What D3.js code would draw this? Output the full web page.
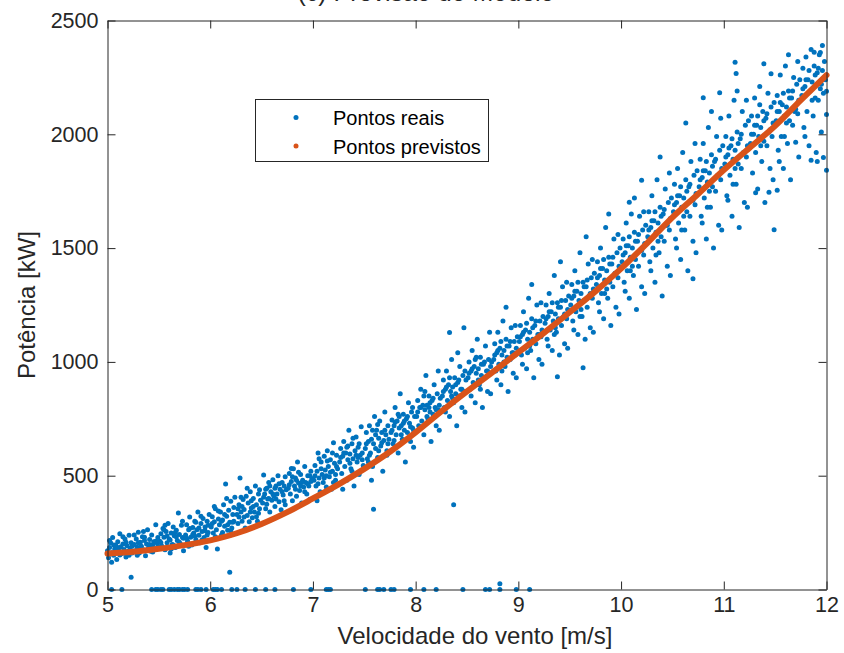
<!DOCTYPE html>
<html><head><meta charset="utf-8">
<script src="https://cdn.jsdelivr.net/npm/d3@7"></script>
<style>body{margin:0;background:#fff;}svg{display:block;font-family:"Liberation Sans",Arial,Helvetica,sans-serif;}</style>
</head><body><svg id="chart" width="844" height="653"></svg>
<script>
// ---- data ----
const titleText = "(c) Previsão do Modelo";
const xLabel = "Velocidade do vento [m/s]";
const yLabel = "Potência [kW]";
const legendLabels = ["Pontos reais", "Pontos previstos"];
const xTicks = [5, 6, 7, 8, 9, 10, 11, 12];
const yTicks = [0, 500, 1000, 1500, 2000, 2500];

// predicted curve
const predSpeed = [5,5.25,5.5,5.75,6,6.25,6.5,6.75,7,7.25,7.5,7.75,8,8.25,8.5,8.75,9,9.25,9.5,9.75,10,10.25,10.5,10.75,11,11.25,11.5,11.75,12];
const predPower = [158,166,179,195,216,246,288,340,400,462,530,605,690,782,870,955,1042,1128,1218,1310,1410,1520,1635,1738,1843,1940,2037,2150,2260];

// real measurements with zero power
const zeroSpeeds = [5.04,5.14,5.43,5.47,5.49,5.52,5.54,5.60,5.62,5.65,5.68,5.70,5.73,5.75,5.78,5.86,5.88,5.91,5.96,6.03,6.05,6.07,6.11,6.21,6.26,6.34,6.44,6.54,6.63,6.81,6.98,7.13,7.15,7.17,7.51,7.63,7.65,7.69,7.76,7.79,7.95,8.08,8.20,8.46,8.68,8.72,8.82,8.98,9.11];
// real measurements [speed, power]
const realPoints = [
[8.82,25],
[5.01,140],[5.02,185],[5.03,205],[5.04,162],[5.05,228],[5.06,150],[5.07,178],[5.08,196],[5.09,132],[5.10,210],[5.11,170],[5.12,245],[5.13,188],[5.14,158],[5.15,200],[5.16,176],[5.17,222],[5.18,143],[5.19,192],[5.20,168],[5.21,238],[5.22,182],[5.23,54],[5.23,205],[5.24,160],[5.02,215],[5.04,120],[5.06,196],[5.08,172],[5.12,152],[5.15,232],[5.18,208],[5.21,150],[5.24,190],[5.10,185],[5.00,170],
[5.26,198],[5.27,170],[5.28,222],[5.29,186],[5.30,252],[5.31,160],[5.32,208],[5.33,190],[5.34,232],[5.35,175],[5.36,215],[5.37,148],[5.38,200],[5.39,262],[5.40,185],[5.41,220],[5.42,168],[5.43,240],[5.44,195],[5.45,210],[5.46,178],[5.47,285],[5.48,205],[5.49,228],[5.26,240],[5.29,150],[5.32,185],[5.35,255],[5.38,172],[5.41,198],[5.44,165],[5.47,212],[5.49,190],[5.30,205],[5.36,230],[5.43,182],
[5.51,212],[5.52,245],[5.53,190],[5.54,268],[5.55,230],[5.56,175],[5.57,255],[5.58,205],[5.59,290],[5.60,222],[5.61,160],[5.62,248],[5.63,198],[5.64,275],[5.65,236],[5.66,185],[5.67,260],[5.68,215],[5.69,336],[5.70,242],[5.71,200],[5.72,282],[5.73,228],[5.74,170],[5.52,205],[5.55,262],[5.58,235],[5.61,218],[5.64,196],[5.67,232],[5.70,208],[5.73,300],[5.56,282],[5.62,178],[5.66,250],[5.74,225],
[5.76,240],[5.77,285],[5.78,212],[5.79,262],[5.80,318],[5.81,230],[5.82,195],[5.83,272],[5.84,248],[5.85,300],[5.86,220],[5.87,262],[5.88,340],[5.89,238],[5.90,205],[5.91,290],[5.92,255],[5.93,312],[5.94,228],[5.95,275],[5.96,185],[5.97,300],[5.98,250],[5.99,330],[5.77,225],[5.80,268],[5.83,242],[5.86,295],[5.89,270],[5.92,218],[5.95,258],[5.98,282],[5.79,190],[5.85,235],[5.91,322],[5.97,240],
[6.01,275],[6.02,320],[6.03,248],[6.04,298],[6.05,355],[6.06,262],[6.07,178],[6.08,310],[6.09,285],[6.10,340],[6.11,240],[6.12,305],[6.13,372],[6.14,278],[6.15,463],[6.16,322],[6.17,260],[6.18,348],[6.19,76],[6.19,295],[6.20,388],[6.21,270],[6.22,330],[6.23,300],[6.24,405],[6.02,290],[6.05,232],[6.08,345],[6.11,300],[6.14,330],[6.17,285],[6.20,258],[6.23,360],[6.04,365],[6.12,250],[6.22,295],[6.16,400],
[6.26,330],[6.27,290],[6.28,372],[6.29,490],[6.30,340],[6.31,300],[6.32,395],[6.33,352],[6.34,270],[6.35,410],[6.36,325],[6.37,380],[6.38,298],[6.39,430],[6.40,358],[6.41,315],[6.42,400],[6.43,340],[6.44,455],[6.45,372],[6.46,300],[6.47,420],[6.48,355],[6.49,392],[6.27,355],[6.30,405],[6.33,318],[6.36,445],[6.39,340],[6.42,365],[6.45,320],[6.48,438],[6.31,365],[6.40,390],[6.47,335],[6.28,318],
[6.51,380],[6.52,503],[6.53,420],[6.54,355],[6.55,445],[6.56,398],[6.57,470],[6.58,340],[6.59,430],[6.60,392],[6.61,482],[6.62,410],[6.63,365],[6.64,455],[6.65,420],[6.66,500],[6.67,385],[6.68,440],[6.69,350],[6.70,470],[6.71,415],[6.72,390],[6.73,495],[6.74,438],[6.52,405],[6.55,375],[6.58,455],[6.61,420],[6.64,398],[6.67,465],[6.70,430],[6.73,372],[6.54,440],[6.63,445],[6.72,455],[6.57,400],
[6.76,445],[6.77,510],[6.78,420],[6.79,475],[6.80,390],[6.81,530],[6.82,455],[6.83,490],[6.84,410],[6.85,560],[6.86,468],[6.87,435],[6.88,505],[6.89,380],[6.90,480],[6.91,450],[6.92,540],[6.93,470],[6.94,420],[6.95,500],[6.96,455],[6.97,395],[6.98,520],[6.99,488],[6.77,460],[6.80,495],[6.83,440],[6.86,515],[6.89,470],[6.92,430],[6.95,465],[6.98,475],[6.79,532],[6.88,455],[6.97,500],[6.84,480],
[7.01,480],[7.02,545],[7.03,455],[7.04,520],[7.05,600],[7.06,490],[7.07,430],[7.08,560],[7.09,505],[7.10,470],[7.11,585],[7.12,525],[7.13,450],[7.14,610],[7.15,540],[7.16,495],[7.17,570],[7.18,440],[7.19,520],[7.20,645],[7.21,555],[7.22,480],[7.23,590],[7.24,530],[7.02,500],[7.05,465],[7.08,530],[7.11,490],[7.14,565],[7.17,515],[7.20,470],[7.23,540],[7.06,575],[7.13,500],[7.19,600],[7.22,505],[7.04,390],
[7.26,560],[7.27,620],[7.28,510],[7.29,585],[7.30,650],[7.31,540],[7.32,600],[7.33,480],[7.34,570],[7.35,700],[7.36,595],[7.37,530],[7.38,640],[7.39,575],[7.40,455],[7.41,610],[7.42,670],[7.43,560],[7.44,625],[7.45,505],[7.46,590],[7.47,715],[7.48,600],[7.49,545],[7.27,580],[7.30,600],[7.33,625],[7.36,555],[7.39,665],[7.42,590],[7.45,640],[7.48,570],[7.29,440],[7.38,520],[7.44,580],[7.34,630],
[7.51,620],[7.52,690],[7.53,575],[7.54,650],[7.55,720],[7.56,600],[7.57,660],[7.58,540],[7.59,353],[7.59,640],[7.60,760],[7.61,620],[7.62,700],[7.63,580],[7.64,665],[7.65,740],[7.66,630],[7.67,690],[7.68,520],[7.69,655],[7.70,780],[7.71,680],[7.72,610],[7.73,720],[7.74,660],[7.52,640],[7.55,590],[7.58,700],[7.61,680],[7.64,610],[7.67,645],[7.70,700],[7.73,640],[7.54,560],[7.63,725],[7.72,590],[7.57,480],
[7.76,690],[7.77,745],[7.78,640],[7.79,720],[7.80,800],[7.81,680],[7.82,740],[7.83,600],[7.84,710],[7.85,860],[7.86,720],[7.87,660],[7.88,770],[7.89,700],[7.90,560],[7.91,750],[7.92,690],[7.93,820],[7.94,730],[7.95,650],[7.96,780],[7.97,710],[7.98,625],[7.99,760],[7.77,700],[7.80,735],[7.83,770],[7.86,680],[7.89,740],[7.92,760],[7.95,715],[7.98,700],[7.79,655],[7.88,730],[7.97,800],[7.84,760],
[8.01,760],[8.02,830],[8.03,720],[8.04,800],[8.05,880],[8.06,740],[8.07,810],[8.08,680],[8.09,790],[8.10,940],[8.11,810],[8.12,750],[8.13,850],[8.14,780],[8.15,650],[8.16,830],[8.17,770],[8.18,900],[8.19,800],[8.20,720],[8.21,860],[8.22,790],[8.23,700],[8.24,840],[8.02,780],[8.05,800],[8.08,850],[8.11,760],[8.14,820],[8.17,840],[8.20,790],[8.23,810],[8.04,710],[8.13,800],[8.22,960],[8.09,870],
[8.26,850],[8.27,920],[8.28,800],[8.29,880],[8.30,960],[8.31,830],[8.32,900],[8.33,1129],[8.33,760],[8.34,870],[8.35,1010],[8.36,890],[8.37,372],[8.37,820],[8.38,930],[8.39,860],[8.40,720],[8.41,910],[8.42,850],[8.43,980],[8.44,880],[8.45,800],[8.46,940],[8.47,1150],[8.47,870],[8.48,780],[8.49,920],[8.27,870],[8.30,890],[8.33,930],[8.36,840],[8.39,900],[8.42,920],[8.45,880],[8.48,960],[8.29,780],[8.41,1040],[8.35,850],
[8.51,930],[8.52,1000],[8.53,880],[8.54,960],[8.55,1050],[8.56,910],[8.57,980],[8.58,820],[8.59,950],[8.60,1100],[8.61,970],[8.62,900],[8.63,1020],[8.64,940],[8.65,800],[8.66,990],[8.67,930],[8.68,1070],[8.69,960],[8.70,870],[8.71,1010],[8.72,950],[8.73,860],[8.74,1000],[8.52,950],[8.55,970],[8.58,1010],[8.61,920],[8.64,990],[8.67,1000],[8.70,960],[8.73,980],[8.54,850],[8.63,880],[8.72,1130],[8.59,1020],
[8.76,1010],[8.77,1080],[8.78,960],[8.79,1040],[8.80,1130],[8.81,990],[8.82,1060],[8.83,900],[8.84,1030],[8.85,1180],[8.86,1050],[8.87,980],[8.88,1100],[8.89,1020],[8.90,870],[8.91,1070],[8.92,1010],[8.93,1150],[8.94,1040],[8.95,950],[8.96,1090],[8.97,1030],[8.98,930],[8.99,1110],[8.77,1030],[8.80,1050],[8.83,1090],[8.86,1000],[8.89,1070],[8.92,1090],[8.95,1040],[8.98,1060],[8.79,920],[8.88,1240],[8.97,1160],[8.84,960],
[9.01,1090],[9.02,1160],[9.03,1030],[9.04,1120],[9.05,1220],[9.06,1060],[9.07,1140],[9.08,970],[9.09,1100],[9.10,1280],[9.11,1130],[9.12,1050],[9.13,1190],[9.14,1100],[9.15,930],[9.16,1160],[9.17,1080],[9.18,1250],[9.19,1120],[9.20,1010],[9.21,1180],[9.22,1110],[9.23,990],[9.24,1200],[9.02,1110],[9.05,1130],[9.08,1170],[9.11,1070],[9.14,1150],[9.17,1180],[9.20,1120],[9.23,1140],[9.04,990],[9.13,1340],[9.22,1260],[9.09,1040],
[9.26,1170],[9.27,1250],[9.28,1100],[9.29,1200],[9.30,1300],[9.31,1140],[9.32,1220],[9.33,1050],[9.34,1180],[9.35,1380],[9.36,1210],[9.37,1130],[9.38,935],[9.38,1260],[9.39,1190],[9.40,1030],[9.41,1240],[9.42,1160],[9.43,1330],[9.44,1200],[9.45,1080],[9.46,1270],[9.47,1190],[9.48,1060],[9.49,1290],[9.27,1190],[9.30,1220],[9.33,1260],[9.36,1150],[9.39,1240],[9.42,1270],[9.45,1210],[9.48,1230],[9.29,1070],[9.41,1440],[9.47,1350],[9.35,1120],
[9.51,1250],[9.52,1340],[9.53,1180],[9.54,1290],[9.55,1400],[9.56,1220],[9.57,1310],[9.58,1120],[9.59,1270],[9.60,1480],[9.61,1300],[9.62,1200],[9.63,974],[9.63,1350],[9.64,1270],[9.65,1100],[9.66,1330],[9.67,1240],[9.68,1430],[9.69,1290],[9.70,1150],[9.71,1370],[9.72,1280],[9.73,1130],[9.74,1390],[9.52,1280],[9.55,1310],[9.58,1350],[9.61,1230],[9.64,1330],[9.67,1360],[9.70,1300],[9.73,1320],[9.54,1140],[9.66,1550],[9.72,1450],[9.60,1200],
[9.76,1340],[9.77,1440],[9.78,1260],[9.79,1380],[9.80,1500],[9.81,1300],[9.82,1410],[9.83,1190],[9.84,1360],[9.85,1590],[9.86,1400],[9.87,1280],[9.88,1460],[9.89,1350],[9.90,1160],[9.91,1430],[9.92,1330],[9.93,1540],[9.94,1390],[9.95,1240],[9.96,1480],[9.97,1370],[9.98,1210],[9.99,1500],[9.77,1370],[9.80,1410],[9.83,1450],[9.86,1320],[9.89,1430],[9.92,1460],[9.95,1390],[9.98,1420],[9.79,1220],[9.88,1650],[9.97,1560],[9.84,1300],
[10.01,1440],[10.02,1540],[10.03,1350],[10.04,1480],[10.05,1610],[10.06,1400],[10.07,1510],[10.08,1701],[10.08,1280],[10.09,1460],[10.10,1650],[10.11,1500],[10.12,1380],[10.13,1570],[10.14,1450],[10.15,1230],[10.16,1530],[10.17,1420],[10.18,1640],[10.19,1490],[10.20,1798],[10.20,1330],[10.21,1580],[10.22,1470],[10.23,1300],[10.24,1600],[10.02,1470],[10.05,1510],[10.08,1550],[10.11,1420],[10.14,1530],[10.17,1560],[10.20,1490],[10.23,1520],[10.04,1310],[10.13,1720],[10.22,1660],[10.09,1400],
[10.26,1550],[10.27,1660],[10.28,1440],[10.29,1590],[10.30,1730],[10.31,1500],[10.32,1620],[10.33,1350],[10.34,1570],[10.35,1800],[10.36,1610],[10.37,1480],[10.38,1680],[10.39,1550],[10.40,1290],[10.41,1650],[10.42,1530],[10.43,1760],[10.44,1600],[10.45,1420],[10.46,1700],[10.47,1580],[10.48,1380],[10.49,1720],[10.27,1580],[10.30,1620],[10.33,1660],[10.36,1530],[10.39,1640],[10.42,1670],[10.45,1600],[10.48,1630],[10.29,1400],[10.38,1900],[10.47,1830],[10.34,1470],
[10.51,1660],[10.52,1780],[10.53,1540],[10.54,1700],[10.55,1850],[10.56,1610],[10.57,1730],[10.58,1450],[10.59,1680],[10.60,1920],[10.61,1720],[10.62,1580],[10.63,1800],[10.64,1660],[10.65,1400],[10.66,1770],[10.67,1640],[10.68,1880],[10.69,1710],[10.70,1365],[10.70,1530],[10.71,1820],[10.72,1690],[10.73,1480],[10.74,1840],[10.52,1690],[10.55,1730],[10.58,1770],[10.61,1640],[10.64,1750],[10.67,1780],[10.70,1710],[10.73,1740],[10.54,1500],[10.63,2050],[10.72,1960],[10.59,1580],
[10.76,1770],[10.77,1890],[10.78,1640],[10.79,1810],[10.80,2161],[10.80,1960],[10.81,1720],[10.82,1840],[10.83,1540],[10.84,1790],[10.85,2030],[10.86,1830],[10.87,1680],[10.88,1910],[10.89,1770],[10.90,1500],[10.91,1880],[10.92,1750],[10.93,1990],[10.94,1820],[10.95,1600],[10.96,2183],[10.96,1930],[10.97,1800],[10.98,1580],[10.99,1950],[10.77,1800],[10.80,1840],[10.83,1880],[10.86,1750],[10.89,1860],[10.92,1890],[10.95,1820],[10.98,1850],[10.79,1610],[10.88,2100],[10.97,2070],[10.84,1680],
[11.01,1870],[11.02,1990],[11.03,1730],[11.04,1910],[11.05,2080],[11.06,1820],[11.07,1950],[11.08,1640],[11.09,1890],[11.10,2150],[11.11,2317],[11.11,1930],[11.12,2267],[11.12,1780],[11.13,2010],[11.14,1870],[11.15,1590],[11.16,1980],[11.17,1850],[11.18,2100],[11.19,1920],[11.20,1700],[11.21,2040],[11.22,1900],[11.23,1680],[11.24,2060],[11.02,1900],[11.05,1940],[11.08,1980],[11.11,1850],[11.14,1960],[11.17,2000],[11.20,1920],[11.23,1950],[11.04,1710],[11.13,2190],[11.22,2150],[11.09,1780],
[11.26,1960],[11.27,2080],[11.28,1830],[11.29,2000],[11.30,2160],[11.31,1743],[11.31,1920],[11.32,2040],[11.33,1760],[11.34,1990],[11.35,2210],[11.36,2030],[11.37,1880],[11.38,2100],[11.39,2310],[11.39,1970],[11.40,1700],[11.41,2070],[11.42,1950],[11.43,2180],[11.44,1745],[11.44,2010],[11.45,1850],[11.46,2266],[11.46,2120],[11.47,1990],[11.48,1800],[11.49,1581],[11.49,2140],[11.27,2000],[11.30,2040],[11.33,2080],[11.36,1950],[11.39,2060],[11.42,2090],[11.45,2020],[11.48,2050],[11.35,2130],
[11.51,2060],[11.52,1754],[11.52,2170],[11.53,1930],[11.54,2100],[11.55,2260],[11.56,1990],[11.57,2130],[11.58,1850],[11.59,2080],[11.60,2300],[11.61,2120],[11.62,1960],[11.63,2190],[11.64,2060],[11.65,1800],[11.66,2160],[11.67,2040],[11.68,2250],[11.69,2100],[11.70,1965],[11.71,2220],[11.72,2090],[11.73,1900],[11.74,2240],[11.52,2100],[11.55,2140],[11.58,2180],[11.61,2050],[11.64,2160],[11.67,2190],[11.70,2110],[11.73,2150],[11.54,1880],[11.63,2350],[11.72,2320],[11.59,1990],
[11.76,2170],[11.77,2290],[11.78,2030],[11.79,2210],[11.80,2340],[11.81,2100],[11.82,2240],[11.83,1950],[11.84,2190],[11.85,2373],[11.85,1886],[11.86,2230],[11.87,2080],[11.88,2300],[11.89,2160],[11.90,1920],[11.91,2270],[11.92,2150],[11.93,2350],[11.94,2359],[11.94,2200],[11.95,2010],[11.96,2390],[11.96,2280],[11.97,1898],[11.97,2180],[11.98,2320],[11.99,2240],[12.00,2189],[12.00,2087],[12.00,1842],[11.77,2200],[11.80,2240],[11.83,2280],[11.86,2150],[11.89,2260],[11.92,2290],[11.95,2220],[11.98,2250],[11.79,1990],[11.88,2360],[11.91,1880]
];

const colorReal = "#0072BD";
const colorPred = "#D95319";
const axisColor = "#262626";

// ---- drawing ----
const svg = d3.select("#chart");
const x = d3.scaleLinear().domain([5, 12]).range([107.5, 826.5]);
const y = d3.scaleLinear().domain([0, 2500]).range([589.5, 20.5]);

const allReal = zeroSpeeds.map(s => [s, 0]).concat(realPoints);

svg.append("g").selectAll("circle").data(allReal).join("circle")
  .attr("cx", d => x(d[0])).attr("cy", d => y(d[1])).attr("r", 2.5)
  .attr("fill", colorReal);

const pred = predSpeed.map((s, i) => [s, predPower[i]]);
svg.append("path").datum(pred)
  .attr("d", d3.line().x(d => x(d[0])).y(d => y(d[1])).curve(d3.curveMonotoneX))
  .attr("fill", "none").attr("stroke", colorPred).attr("stroke-width", 6)
  .attr("stroke-linecap", "round");

function styleAxis(g) {
  g.selectAll("path.domain").attr("stroke", axisColor).attr("stroke-width", 1);
  g.selectAll(".tick line").attr("stroke", axisColor).attr("stroke-width", 1);
  g.selectAll(".tick text").attr("fill", axisColor).attr("font-size", 21.5)
    .attr("font-family", '"Liberation Sans",Arial,sans-serif');
}
svg.append("g").attr("transform", "translate(0,589.5)")
  .call(d3.axisBottom(x).tickValues(xTicks).tickFormat(d3.format("d")).tickSizeInner(-8).tickSizeOuter(0).tickPadding(7))
  .call(styleAxis);
svg.append("g").attr("transform", "translate(0,20.5)")
  .call(d3.axisTop(x).tickValues(xTicks).tickFormat("").tickSizeInner(-8).tickSizeOuter(0))
  .call(styleAxis);
svg.append("g").attr("transform", "translate(107.5,0)")
  .call(d3.axisLeft(y).tickValues(yTicks).tickFormat(d3.format("d")).tickSizeInner(-8).tickSizeOuter(0).tickPadding(9))
  .call(styleAxis);
svg.append("g").attr("transform", "translate(826.5,0)")
  .call(d3.axisRight(y).tickValues(yTicks).tickFormat("").tickSizeInner(-8).tickSizeOuter(0))
  .call(styleAxis);

// labels
svg.append("text").attr("x", 475).attr("y", 644).attr("text-anchor", "middle")
  .attr("font-size", 24).attr("fill", axisColor).text(xLabel);
svg.append("text").attr("transform", "translate(35,305) rotate(-90)").attr("text-anchor", "middle")
  .attr("font-size", 24).attr("fill", axisColor).text(yLabel);
svg.append("text").attr("x", 426).attr("y", 0.5).attr("text-anchor", "middle")
  .attr("font-size", 25).attr("fill", axisColor).text(titleText);

// legend
const lg = svg.append("g");
lg.append("rect").attr("x", 255.5).attr("y", 99.5).attr("width", 233).attr("height", 62)
  .attr("fill", "#fff").attr("stroke", axisColor).attr("stroke-width", 1);
const legendColors = [colorReal, colorPred];
legendLabels.forEach((lab, i) => {
  const cy = 117.5 + i * 28.5;
  lg.append("circle").attr("cx", 296).attr("cy", cy).attr("r", 2.5).attr("fill", legendColors[i]);
  lg.append("text").attr("x", 333).attr("y", cy + 7.5).attr("font-size", 20).attr("fill", "#000").text(lab);
});
</script></body></html>
